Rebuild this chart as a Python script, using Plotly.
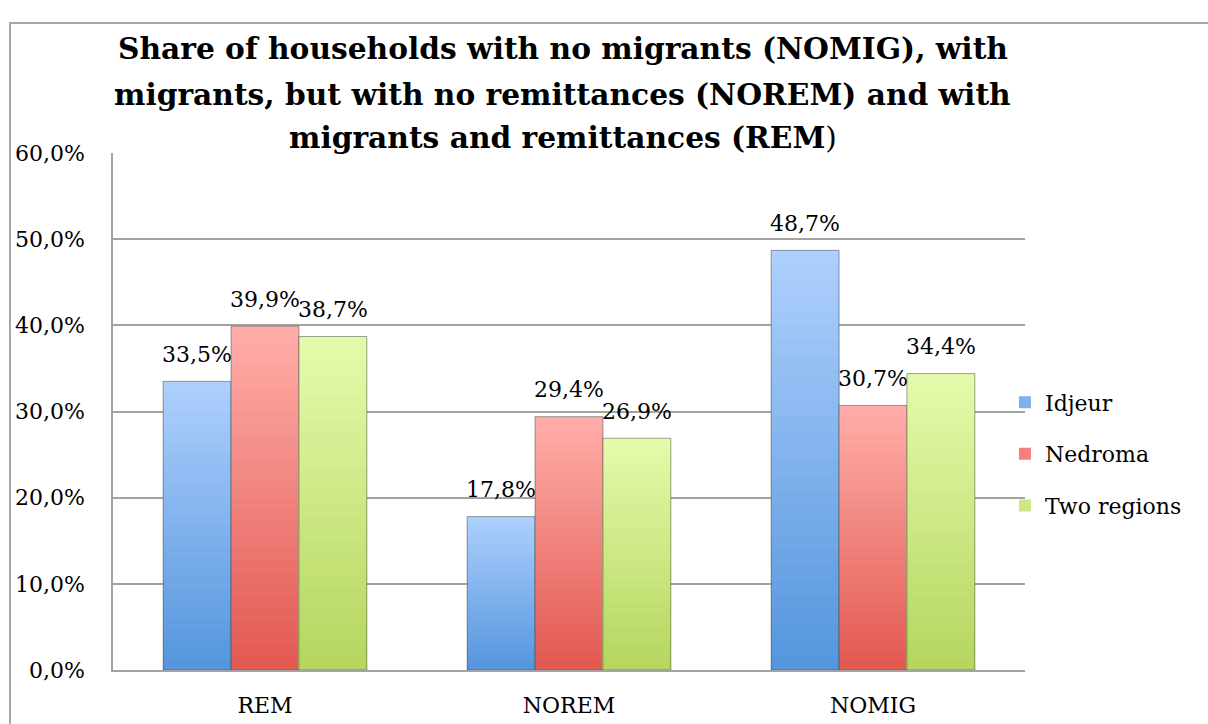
import plotly.graph_objects as go

# Household categories and the share (%) of each in the two regions
categories = ["REM", "NOREM", "NOMIG"]
idjeur = [33.5, 17.8, 48.7]
nedroma = [39.9, 29.4, 30.7]
two_regions = [38.7, 26.9, 34.4]

series = [
    ("Idjeur", idjeur, (172, 207, 252), (86, 150, 222)),
    ("Nedroma", nedroma, (255, 172, 168), (226, 90, 82)),
    ("Two regions", two_regions, (228, 250, 170), (182, 214, 96)),
]

FONT = "DejaVu Serif"
N_STEPS = 28  # bands used to shade each bar from light (top) to dark (bottom)


def mix(c0, c1, t):
    return "rgb({},{},{})".format(*[round(a + (b - a) * t) for a, b in zip(c0, c1)])


fig = go.Figure()

for name, values, top, bottom in series:
    for k in range(N_STEPS):
        frac = (N_STEPS - k) / N_STEPS
        t = k / (N_STEPS - 1)
        fig.add_trace(go.Bar(
            x=categories,
            y=[v * frac for v in values],
            name=name,
            offsetgroup=name,
            legendgroup=name,
            showlegend=(k == N_STEPS // 2),
            marker=dict(color=mix(top, bottom, t), line=dict(width=0)),
            hoverinfo="skip",
        ))
    # thin outline around the full bar
    fig.add_trace(go.Bar(
        x=categories,
        y=values,
        name=name,
        offsetgroup=name,
        legendgroup=name,
        showlegend=False,
        marker=dict(color="rgba(0,0,0,0)",
                    line=dict(color="rgba(70,70,70,0.5)", width=1)),
        hovertemplate="%{x}: %{y:.1f}%<extra>" + name + "</extra>",
    ))

# value labels above each bar
shifts = [-68, 0, 68]
annotations = []
for (name, values, _, _), dx in zip(series, shifts):
    for cat, v in zip(categories, values):
        annotations.append(dict(
            x=cat, y=v, xref="x", yref="y",
            text=f"{v:.1f}%".replace(".", ","),
            showarrow=False, xshift=dx, yshift=27,
            font=dict(family=FONT, size=22, color="#000000"),
        ))

# three-line title
title_lines = [
    "<b>Share of households with no migrants (NOMIG), with</b>",
    "<b>migrants, but with no remittances (NOREM) and with</b>",
    "<b>migrants and remittances (REM</b>)",
]
for line, py in zip(title_lines, [48, 95, 138]):
    annotations.append(dict(
        x=0.493, y=1 + (153 - py) / 517, xref="paper", yref="paper",
        text=line, showarrow=False, xanchor="center", yanchor="middle",
        font=dict(family=FONT, size=29.7, color="#000000"),
    ))

fig.update_layout(
    width=1208, height=724,
    margin=dict(l=113, r=183, t=153, b=54, autoexpand=False),
    paper_bgcolor="white", plot_bgcolor="white",
    barmode="group", bargap=0.33, bargroupgap=0,
    separators=", ",
    font=dict(family=FONT, size=22, color="#000000"),
    annotations=annotations,
    showlegend=True,
    legend=dict(
        x=0.978, y=0.418, xanchor="left", yanchor="middle",
        traceorder="grouped", tracegroupgap=20,
        font=dict(family=FONT, size=22, color="#000000"),
        bgcolor="rgba(0,0,0,0)",
    ),
    shapes=[dict(
        type="rect", xref="paper", yref="paper",
        x0=(10 - 113) / 912, x1=1.25, y0=-0.2, y1=1 + (153 - 23) / 517,
        line=dict(color="#A6A6A6", width=2), fillcolor="rgba(0,0,0,0)",
        layer="below",
    )],
)

fig.update_yaxes(
    range=[0, 60], dtick=10, tickformat=".1f", ticksuffix="%",
    showgrid=True, gridcolor="#A3A3A3", gridwidth=1.6,
    showline=True, linecolor="#A3A3A3", linewidth=1.6,
    zeroline=False, ticks="", ticklabelstandoff=22, automargin=False,
    tickfont=dict(family=FONT, size=22),
)
fig.update_xaxes(
    showline=True, linecolor="#A3A3A3", linewidth=1.6,
    ticks="", ticklabelstandoff=15, automargin=False,
    tickfont=dict(family=FONT, size=22),
)

fig.write_html("out.html")
